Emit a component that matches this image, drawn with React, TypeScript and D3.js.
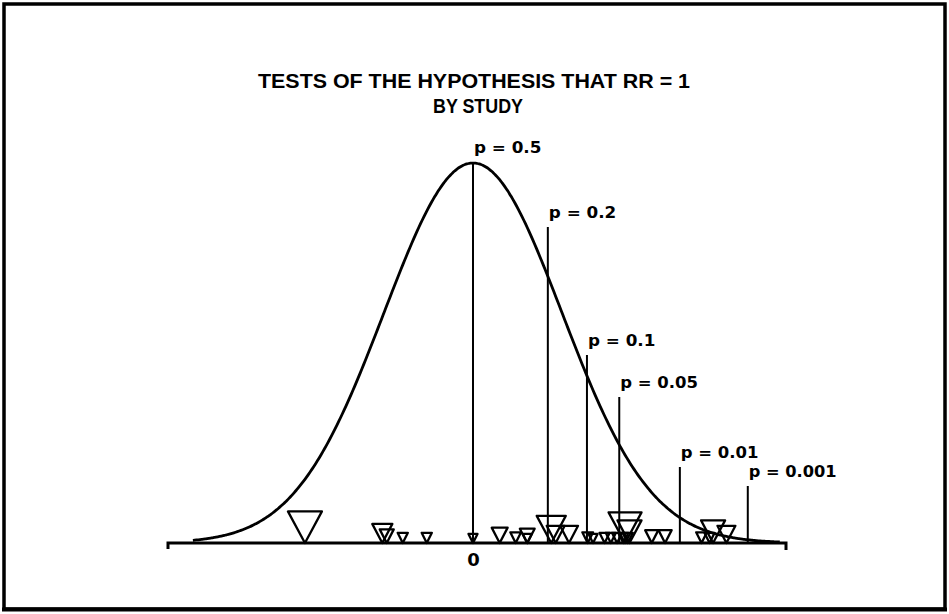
import { useRef, useEffect } from 'react';
import * as d3 from 'd3';

// study test statistics (z) and their relative weights
const studyZ = [
  -1.89, -1.02, -0.97, -0.79, -0.52, 0.0, 0.3, 0.48, 0.61, 0.61, 0.88, 0.93, 1.08, 1.29,
  1.35, 1.48, 1.55, 1.62, 1.69, 1.74, 1.71, 1.76, 2.01, 2.16, 2.57, 2.66, 2.7, 2.85,
];
const studyWeight = [
  100, 35, 17, 9, 9, 7, 22, 10, 19, 7, 73, 28, 28, 10,
  7, 9, 9, 9, 9, 9, 94, 50, 15, 15, 10, 9, 50, 28,
];

// one-sided p value reference lines
const pLabels = ['p = 0.5', 'p = 0.2', 'p = 0.1', 'p = 0.05', 'p = 0.01', 'p = 0.001'];
const pValues = [0.5, 0.2, 0.1, 0.05, 0.01, 0.001];
const pLabelTop = [153, 218, 346, 388, 458, 477];

const titleLines = ['TESTS  OF  THE  HYPOTHESIS  THAT  RR  =  1', 'BY STUDY'];
const zDomain: [number, number] = [-3.43, 3.52];
const curveDomain: [number, number] = [-3.15, 3.45];

// normal cdf approximation, inverted by bisection
function normCdf(z: number) {
  const t = 1 / (1 + 0.2316419 * Math.abs(z));
  const d = 0.3989423 * Math.exp((-z * z) / 2);
  const p = d * t * (0.3193815 + t * (-0.3565638 + t * (1.781478 + t * (-1.821256 + t * 1.330274))));
  return z > 0 ? 1 - p : p;
}
function zForUpperTail(p: number) {
  let lo = -6, hi = 6;
  for (let i = 0; i < 60; i++) {
    const mid = (lo + hi) / 2;
    if (1 - normCdf(mid) > p) lo = mid; else hi = mid;
  }
  return (lo + hi) / 2;
}
const pdf = (z: number) => Math.exp((-z * z) / 2) / Math.sqrt(2 * Math.PI);

export default function App() {
  const ref = useRef<SVGSVGElement>(null);

  useEffect(() => {
    const el = ref.current;
    if (!el) return;
    const svg = d3.select(el);
    svg.selectAll('*').remove();

    const baseY = 543;
    const x = d3.scaleLinear().domain(zDomain).range([168, 786]);
    const y = d3.scaleLinear().domain([0, pdf(0)]).range([baseY, 163]);
    const size = d3.scaleSqrt().domain([0, 100]).range([0, 34]);

    // frame
    svg.append('rect')
      .attr('x', 4).attr('y', 4).attr('width', 941).attr('height', 605)
      .attr('fill', 'none').attr('stroke', '#000').attr('stroke-width', 3.5);
    svg.append('line')
      .attr('x1', 2).attr('x2', 947).attr('y1', 609.5).attr('y2', 609.5)
      .attr('stroke', '#000').attr('stroke-width', 4);

    // title
    const fontT = '"Liberation Sans", Arial, sans-serif';
    svg.append('text')
      .attr('x', 258).attr('y', 88)
      .attr('textLength', 432).attr('lengthAdjust', 'spacingAndGlyphs')
      .attr('font-family', fontT).attr('font-weight', 'bold').attr('font-size', 21)
      .text(titleLines[0]);
    svg.append('text')
      .attr('x', 433).attr('y', 113)
      .attr('textLength', 90).attr('lengthAdjust', 'spacingAndGlyphs')
      .attr('font-family', fontT).attr('font-weight', 'bold').attr('font-size', 21)
      .text(titleLines[1]);

    // normal curve
    const pts = d3.range(curveDomain[0], curveDomain[1] + 0.001, 0.02);
    svg.append('path')
      .datum(pts)
      .attr('d', d3.line<number>().x(d => x(d)).y(d => y(pdf(d))).curve(d3.curveBasis))
      .attr('fill', 'none').attr('stroke', '#000').attr('stroke-width', 2.8);

    // p value lines and labels
    const fontP = '"DejaVu Sans", sans-serif';
    pValues.forEach((p, i) => {
      const z = zForUpperTail(p);
      const lx = x(z);
      const top = i === 0 ? y(pdf(0)) : pLabelTop[i] + 9;
      svg.append('line')
        .attr('x1', lx).attr('x2', lx).attr('y1', top).attr('y2', baseY)
        .attr('stroke', '#000').attr('stroke-width', 2);
      svg.append('text')
        .attr('x', lx + 1).attr('y', pLabelTop[i])
        .attr('textLength', pLabels[i].length * 10.2 - 4).attr('lengthAdjust', 'spacingAndGlyphs')
        .attr('font-family', fontP).attr('font-weight', 'bold').attr('font-size', 16)
        .text(pLabels[i]);
    });

    // studies as inverted triangles sitting on the axis
    svg.append('g')
      .selectAll('path')
      .data(studyZ.map((z, i) => ({ z, w: size(studyWeight[i]) })))
      .enter()
      .append('path')
      .attr('d', d => {
        const cx = x(d.z);
        const h = d.w * 0.9 + 1;
        return `M${cx - d.w / 2},${baseY - h}L${cx + d.w / 2},${baseY - h}L${cx},${baseY}Z`;
      })
      .attr('fill', 'none').attr('stroke', '#000').attr('stroke-width', 2.3)
      .attr('stroke-linejoin', 'round');

    // axis
    const axis = svg.append('g').attr('transform', `translate(0,${baseY})`)
      .call(d3.axisBottom(x).tickValues([0]).tickSize(0).tickFormat(() => '0'));
    axis.select('.domain').remove();
    axis.selectAll('text')
      .attr('font-family', fontP).attr('font-size', 18).attr('font-weight', 'bold')
      .attr('dy', 0).attr('y', 23).attr('fill', '#000');
    svg.append('path')
      .attr('d', `M${x(zDomain[0])},${baseY + 6}V${baseY}H${x(zDomain[1])}V${baseY + 7}`)
      .attr('fill', 'none').attr('stroke', '#000').attr('stroke-width', 3);
  }, []);

  return (
    <svg ref={ref} width={949} height={614}
      style={{ position: 'absolute', left: 0, top: 0, background: '#fff' }} />
  );
}
